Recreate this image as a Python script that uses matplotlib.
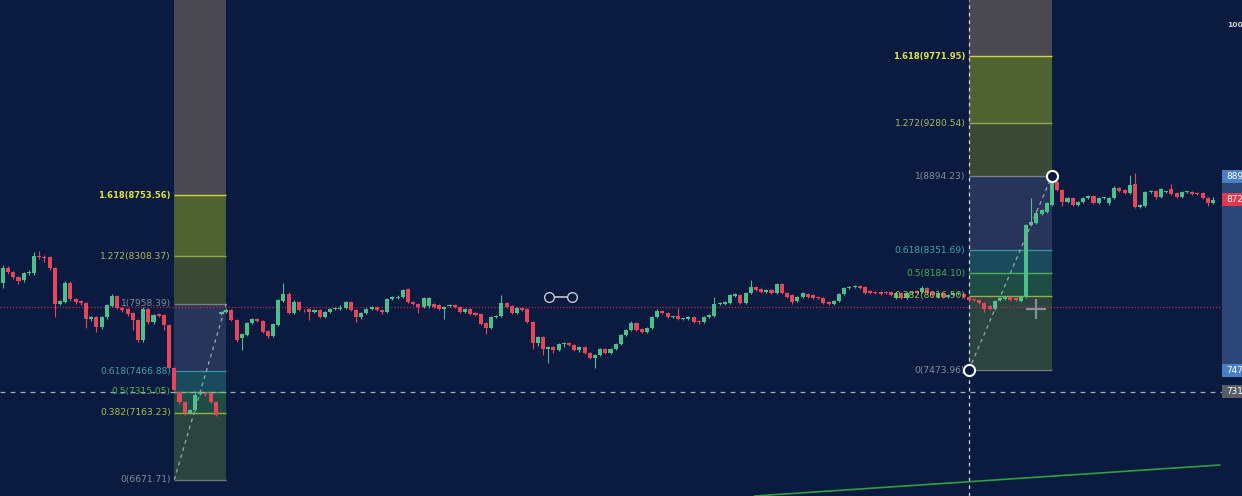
import matplotlib
matplotlib.use("Agg")
import matplotlib.pyplot as plt
from matplotlib.patches import Rectangle

# candle data (one candle per index)
opens = [
    8111, 8221, 8192, 8155, 8133, 8184, 8184, 8309, 8302, 8302,
    8221, 7958, 7972, 8111, 7994, 7980, 7965, 7848, 7862, 7789,
    7862, 7943, 8016, 7928, 7921, 7892, 7840, 7694, 7921, 7826,
    7884, 7877, 7804, 7489, 7313, 7240, 7160, 7181, 7300, 7306,
    7306, 7240, 7884, 7899, 7913, 7840, 7709, 7730, 7818, 7848,
    7833, 7760, 7723, 7804, 7980, 8030, 7892, 7972, 7913, 7921,
    7899, 7913, 7862, 7899, 7921, 7921, 7928, 7972, 7913, 7862,
    7892, 7921, 7935, 7913, 7899, 7994, 8001, 8009, 8067, 7972,
    7958, 7935, 7943, 7958, 7950, 7921, 7943, 7950, 7935, 7899,
    7921, 7892, 7884, 7818, 7782, 7862, 7870, 7965, 7943, 7892,
    7928, 7921, 7826, 7672, 7716, 7628, 7643, 7621, 7665, 7672,
    7657, 7621, 7643, 7599, 7562, 7584, 7628, 7599, 7628, 7665,
    7730, 7767, 7818, 7774, 7752, 7782, 7862, 7906, 7892, 7862,
    7870, 7848, 7848, 7862, 7833, 7826, 7862, 7870, 7958, 7958,
    7965, 8016, 8023, 7965, 8038, 8082, 8067, 8045, 8060, 8038,
    8104, 8038, 8023, 7980, 8009, 8030, 8023, 8009, 8001, 7972,
    7958, 7980, 8030, 8075, 8082, 8089, 8082, 8052, 8045, 8045,
    8045, 8045, 8001, 8038, 8001, 8038, 8052, 8045, 8075, 8045,
    8009, 8038, 8009, 8023, 8030, 8030, 8009, 7994, 7987, 7965,
    7943, 7921, 7987, 7994, 8009, 8001, 7980, 8009, 8536, 8550,
    8616, 8631, 8682, 8850, 8792, 8704, 8733, 8682, 8704, 8733,
    8748, 8697, 8733, 8697, 8733, 8806, 8792, 8770, 8836, 8668,
    8675, 8777, 8785, 8741, 8777, 8799, 8770, 8741, 8777, 8777,
    8770, 8770, 8733, 8697,
]
highs = [
    8243, 8236, 8199, 8163, 8192, 8206, 8338, 8345, 8316, 8309,
    8228, 7987, 8126, 8126, 8001, 7987, 7972, 7870, 7870, 7870,
    7958, 8030, 8023, 7935, 7928, 7899, 7848, 7935, 7928, 7884,
    7892, 7884, 7811, 7496, 7320, 7247, 7189, 7320, 7320, 7313,
    7313, 7247, 7906, 7928, 7921, 7848, 7745, 7826, 7855, 7855,
    7840, 7767, 7818, 7994, 8111, 8045, 7987, 7980, 7921, 7928,
    7921, 7921, 7906, 7928, 7935, 7950, 7980, 7980, 7921, 7899,
    7928, 7943, 7943, 7921, 8001, 8016, 8023, 8067, 8075, 7980,
    7965, 8009, 8009, 7965, 7958, 7943, 7958, 7958, 7943, 7928,
    7928, 7899, 7892, 7826, 7870, 7877, 8023, 7972, 7950, 7935,
    7935, 7928, 7833, 7723, 7723, 7650, 7650, 7672, 7680, 7680,
    7665, 7650, 7650, 7606, 7592, 7636, 7636, 7636, 7672, 7738,
    7774, 7833, 7826, 7782, 7789, 7870, 7921, 7913, 7899, 7870,
    7928, 7855, 7870, 7870, 7840, 7870, 7884, 8009, 7972, 7980,
    8030, 8038, 8030, 8045, 8133, 8089, 8075, 8067, 8067, 8111,
    8111, 8045, 8030, 8016, 8045, 8038, 8030, 8016, 8009, 7980,
    7987, 8038, 8082, 8089, 8096, 8096, 8089, 8060, 8052, 8052,
    8052, 8052, 8045, 8045, 8045, 8052, 8060, 8089, 8082, 8052,
    8045, 8045, 8030, 8045, 8045, 8038, 8016, 8001, 7994, 7972,
    7950, 7987, 8009, 8016, 8016, 8009, 8016, 8543, 8733, 8646,
    8653, 8704, 8894, 8858, 8799, 8741, 8741, 8711, 8741, 8755,
    8755, 8741, 8741, 8741, 8821, 8814, 8799, 8902, 8916, 8689,
    8785, 8792, 8792, 8806, 8785, 8836, 8777, 8785, 8785, 8785,
    8777, 8777, 8741, 8741,
]
lows = [
    8075, 8177, 8140, 8104, 8118, 8170, 8170, 8287, 8265, 8206,
    7862, 7950, 7965, 7980, 7958, 7950, 7782, 7833, 7752, 7775,
    7848, 7935, 7921, 7899, 7870, 7767, 7680, 7680, 7811, 7811,
    7862, 7767, 7480, 7320, 7226, 7145, 7150, 7174, 7291, 7284,
    7233, 7138, 7877, 7892, 7833, 7680, 7621, 7723, 7811, 7826,
    7745, 7709, 7716, 7796, 7972, 7884, 7884, 7906, 7899, 7840,
    7892, 7855, 7855, 7892, 7913, 7913, 7921, 7906, 7826, 7848,
    7884, 7913, 7906, 7884, 7892, 7987, 7994, 8001, 7965, 7950,
    7891, 7928, 7928, 7928, 7913, 7848, 7935, 7928, 7892, 7892,
    7877, 7870, 7804, 7738, 7774, 7855, 7862, 7928, 7884, 7884,
    7906, 7818, 7628, 7650, 7584, 7526, 7599, 7614, 7643, 7650,
    7614, 7606, 7592, 7555, 7489, 7577, 7592, 7592, 7621, 7657,
    7723, 7760, 7760, 7745, 7745, 7774, 7855, 7884, 7855, 7855,
    7840, 7840, 7840, 7818, 7811, 7818, 7855, 7862, 7950, 7950,
    7958, 8009, 7958, 7958, 8030, 8052, 8038, 8038, 8030, 8030,
    8030, 8001, 7958, 7972, 8001, 8001, 7994, 7994, 7958, 7950,
    7950, 7972, 8023, 8067, 8075, 8067, 8030, 8030, 8030, 8023,
    8030, 8016, 7994, 7994, 7994, 8030, 8030, 8038, 8030, 8016,
    8001, 8001, 8001, 8016, 8023, 8001, 7980, 7980, 7958, 7899,
    7913, 7913, 7980, 7987, 7980, 7980, 7972, 8001, 8528, 8543,
    8609, 8624, 8675, 8785, 8675, 8697, 8675, 8675, 8697, 8726,
    8689, 8689, 8726, 8682, 8726, 8777, 8763, 8763, 8660, 8660,
    8668, 8770, 8726, 8733, 8770, 8755, 8733, 8733, 8770, 8755,
    8755, 8726, 8675, 8689,
]
closes = [
    8221, 8192, 8155, 8126, 8184, 8192, 8309, 8302, 8294, 8221,
    7958, 7980, 8111, 7994, 7972, 7965, 7848, 7862, 7789, 7862,
    7950, 8016, 7928, 7913, 7884, 7840, 7694, 7921, 7826, 7877,
    7870, 7804, 7489, 7328, 7240, 7160, 7181, 7291, 7306, 7298,
    7240, 7145, 7899, 7913, 7840, 7694, 7738, 7818, 7848, 7833,
    7752, 7723, 7811, 7987, 8030, 7892, 7972, 7913, 7910, 7899,
    7913, 7862, 7899, 7921, 7924, 7928, 7972, 7913, 7862, 7892,
    7921, 7935, 7913, 7899, 7994, 8009, 8009, 8060, 7972, 7958,
    7935, 8001, 8001, 7935, 7921, 7935, 7950, 7935, 7899, 7921,
    7884, 7877, 7811, 7782, 7862, 7870, 7965, 7935, 7892, 7928,
    7913, 7826, 7672, 7716, 7628, 7643, 7621, 7665, 7672, 7657,
    7621, 7643, 7599, 7562, 7584, 7628, 7599, 7628, 7665, 7730,
    7767, 7818, 7767, 7752, 7782, 7862, 7906, 7892, 7862, 7866,
    7848, 7851, 7862, 7826, 7826, 7862, 7877, 7958, 7965, 7972,
    8023, 8030, 7965, 8038, 8082, 8060, 8045, 8060, 8038, 8104,
    8038, 8009, 7972, 8009, 8038, 8009, 8001, 8001, 7965, 7958,
    7980, 8030, 8075, 8082, 8085, 8075, 8038, 8038, 8038, 8030,
    8038, 8023, 8038, 8001, 8038, 8045, 8038, 8075, 8038, 8023,
    8038, 8009, 8023, 8038, 8038, 8009, 7987, 7987, 7965, 7921,
    7921, 7980, 8001, 8009, 7987, 7987, 8009, 8536, 8558, 8624,
    8646, 8697, 8850, 8792, 8704, 8733, 8682, 8704, 8733, 8748,
    8697, 8733, 8736, 8733, 8806, 8785, 8770, 8829, 8668, 8682,
    8777, 8785, 8741, 8799, 8780, 8763, 8741, 8777, 8780, 8763,
    8763, 8733, 8697, 8721,
]

# fib extension drawings: anchor candles and level prices
fib_ratios = [0, 0.382, 0.5, 0.618, 1, 1.272, 1.618]
left_fib_x = [33, 43]
left_fib_levels = [6671.71, 7163.23, 7315.05, 7466.88, 7958.39, 8308.37, 8753.56]
right_fib_x = [186, 202]
right_fib_levels = [7473.96, 8016.50, 8184.10, 8351.69, 8894.23, 9280.54, 9771.95]

# other drawings / overlays
crosshair_x = 186
crosshair_price = 7314.00
dotted_price = 7934.0
trend_x = [144.8, 234.3]
trend_price = [6552, 6779]
pin_x = [105.1, 109.6]
pin_price = 8008
cursor_x = 199
cursor_price = 7921
tag_prices = [8894.23, 8721.00, 7473.96, 7314.00]
top_scale_value = 10000.00

BG = "#0b1a3f"
UP = "#4cbf8c"
DOWN = "#e6455c"
zone_colors = ["#2b4440", "#1d4d44", "#1a4b5c", "#28355a", "#3b4a35", "#4f6332"]
top_zone = "#4a4952"
level_colors = ["#6e7a78", "#8fb33c", "#4caf50", "#3b8f9c", "#7a7f8a", "#8fa84a", "#d4d63a"]
label_colors = ["#848c9c", "#a5c040", "#4caf50", "#3aa6a6", "#848a98", "#a8b860", "#e2e340"]
tag_colors = ["#4a7fc0", "#e0394f", "#4a7fc0", "#575c66"]

x_min, x_max = -0.56, 238.6
y_min, y_max = 6552, 10183
scale_left = 234.7

fig = plt.figure(figsize=(12.42, 4.96), dpi=100, facecolor=BG)
ax = fig.add_axes([0, 0, 1, 1])
ax.set_facecolor(BG)
ax.set_xlim(x_min, x_max)
ax.set_ylim(y_min, y_max)
ax.axis("off")


def draw_fib(xs, levels):
    x0, x1 = xs
    for k in range(len(levels) - 1):
        ax.add_patch(Rectangle((x0, levels[k]), x1 - x0, levels[k + 1] - levels[k],
                               color=zone_colors[k], lw=0, zorder=1))
    ax.add_patch(Rectangle((x0, levels[-1]), x1 - x0, y_max - levels[-1],
                           color=top_zone, lw=0, zorder=1))
    ax.hlines(levels, x0, x1, colors=level_colors, lw=1, zorder=2)
    for r, lv, c in zip(fib_ratios, levels, label_colors):
        bold = r == 1.618
        ax.annotate(f"{r:g}({lv:.2f})", (x0, lv), xytext=(-2.5, 0),
                    textcoords="offset points", ha="right", va="center",
                    fontsize=6.0 if bold else 6.6, color=c, zorder=6,
                    fontweight="bold" if bold else "normal")
    ax.plot(xs, [levels[0], levels[4]], color="#9ea3ae", lw=0.9,
            ls=(0, (3, 3)), zorder=4)


draw_fib(left_fib_x, left_fib_levels)
draw_fib(right_fib_x, right_fib_levels)

# horizontal guide lines
ax.hlines(dotted_price, x_min, scale_left, colors="#b3304c", lw=0.9, ls=(0, (1, 1.5)), zorder=2)
ax.hlines(crosshair_price, x_min, scale_left, colors="#a4a8b4", lw=0.9, ls=(0, (4, 4)), zorder=2)
ax.axvline(crosshair_x, color="#d0d4de", lw=0.9, ls=(0, (3, 3)), zorder=2)

# candles
for i, (o, h, l, c) in enumerate(zip(opens, highs, lows, closes)):
    col = UP if c >= o else DOWN
    ax.vlines(i, l, h, colors=col, lw=0.8, zorder=3)
    ax.bar(i, max(abs(c - o), 7), bottom=min(o, c), width=0.78, color=col, lw=0, zorder=3)

# trend line at the bottom
ax.plot(trend_x, trend_price, color="#2ea043", lw=1.2, zorder=4)

# drawing handles
ax.plot([right_fib_x[0], right_fib_x[1]], [right_fib_levels[0], right_fib_levels[4]], "o",
        ms=8, mfc=BG, mec="white", mew=1.5, zorder=7)
ax.plot(pin_x, [pin_price, pin_price], "-o", color="#c4c8d0", ms=7, mfc=BG, mew=1, lw=1.2, zorder=7)
ax.plot(cursor_x, cursor_price, marker="+", ms=14, mew=1.6, color="#8a8e98", zorder=7)

# price scale (labels are cut by the right edge, as in the screenshot)
ax.add_patch(Rectangle((scale_left, 7430), x_max - scale_left, 8938 - 7430,
                       color="#2c4678", lw=0, zorder=2))
half = 6.5 * (y_max - y_min) / 496
for p, c in zip(tag_prices, tag_colors):
    ax.add_patch(Rectangle((scale_left, p - half), x_max - scale_left, 2 * half,
                           color=c, lw=0, zorder=5))
    ax.text(scale_left + 0.9, p, f"{p:.0f}", color="white", fontsize=6.4,
            va="center", ha="left", zorder=6)
ax.text(scale_left + 1.0, top_scale_value, f"{top_scale_value:.0f}", color="#d0d0d6",
        fontsize=5.4, fontweight="bold", va="center", ha="left", zorder=6)

fig.savefig("out.png", dpi=100, facecolor=BG)
